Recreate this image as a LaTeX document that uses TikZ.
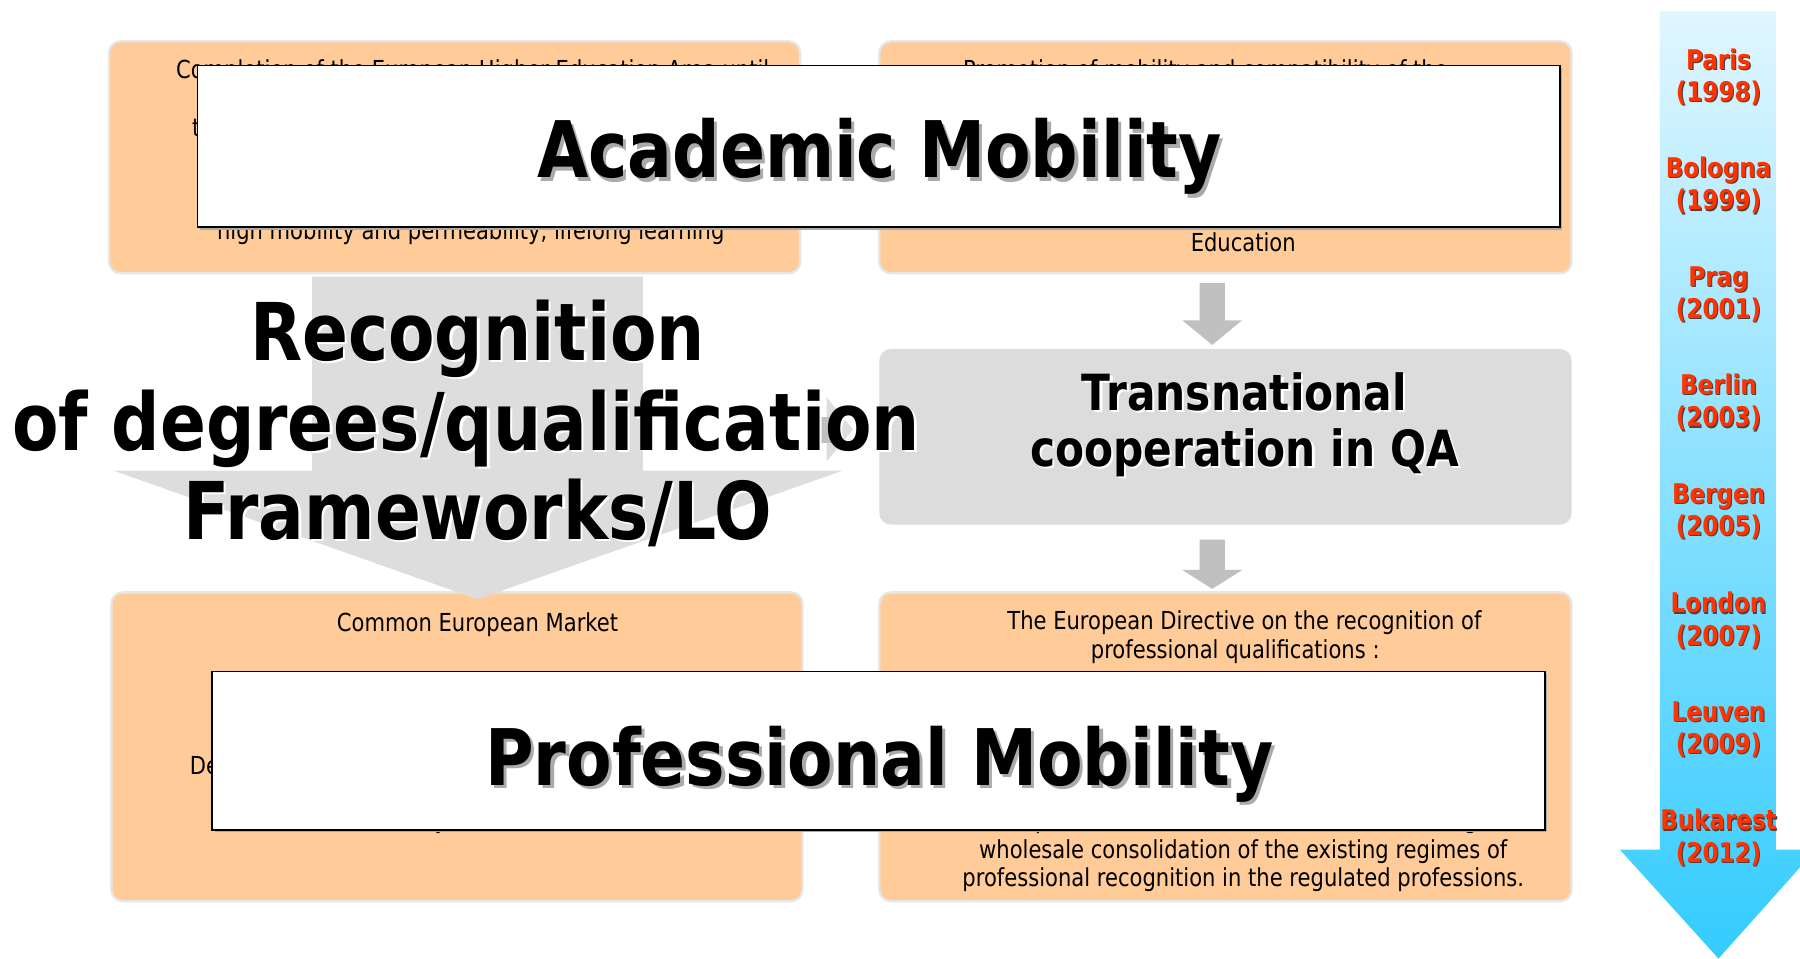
\documentclass[tikz,border=0pt]{standalone}
\usepackage{fontspec}
\setmainfont{DejaVu Sans}[FakeStretch=0.85]
\definecolor{ofill}{RGB}{255,204,153}
\definecolor{obord}{RGB}{230,230,230}
\definecolor{bigarrow}{RGB}{221,221,221}
\definecolor{qabox}{RGB}{220,220,220}
\definecolor{smallarrow}{RGB}{192,192,192}
\definecolor{tlTop}{RGB}{224,246,255}
\definecolor{tlBot}{RGB}{51,204,255}
\definecolor{tlred}{RGB}{255,51,0}
\definecolor{tlshade}{RGB}{90,60,60}
\definecolor{headshade}{RGB}{170,170,170}
\tikzset{
  obox/.style={draw=obord, line width=1pt, fill=ofill, rounded corners=5pt, inner sep=0pt},
  qbox/.style={fill=qabox, rounded corners=5pt, inner sep=0pt},
  hbox/.style={draw=black, line width=0.8pt, fill=white, inner sep=0pt},
  small/.style={font=\fontsize{10.8}{12.5}\selectfont, inner sep=0pt, anchor=base},
  headtext/.style={font=\fontsize{34}{40}\selectfont\bfseries, inner sep=0pt, anchor=base},
  rectext/.style={font=\fontsize{34.7}{40}\selectfont\bfseries, inner sep=0pt, anchor=base},
  qatext/.style={font=\fontsize{21.7}{24}\selectfont\bfseries, inner sep=0pt, anchor=base},
  tltext/.style={font=\fontsize{11.8}{14}\selectfont\bfseries, align=center, inner sep=0pt, text=tlred},
  tlshadow/.style={tltext, text=tlshade},
}
\begin{document}
\begin{tikzpicture}[x=0.5pt,y=-0.5pt]
\useasboundingbox (0,0) rectangle (1568,835);
\fill[white] (0,0) rectangle (1568,835);

% timeline arrow
\shade[top color=tlTop, bottom color=tlBot] (1446,10) -- (1547,10) -- (1547,740) -- (1568,740) -- (1568,755.6) -- (1497,835) -- (1411,740) -- (1446,740) -- cycle;

% top boxes
\node[obox, minimum width=301pt, minimum height=101pt] (tl) at (396,137) {};
\node[obox, minimum width=301.5pt, minimum height=101pt] (tr) at (1067.5,137) {};
\node[small, anchor=base west] (tl1) at (153,68) {Completion of the European Higher Education Area until};
\node[small, anchor=base west] (tl2) at (167,119) {the realisation of the European Higher Education Area};
\node[small, anchor=base west] (tl3) at (171,182) {(European dimension, employability, competitiveness)};
\node[small] (tl4) at (410,209) {high mobility and permeability, lifelong learning};
\node[small] (tr1) at (1050,68) {Promotion of mobility and compatibility of the};
\node[small] (tr2) at (1083,219) {Education};

% transnational QA
\node[qbox, minimum width=301.5pt, minimum height=76.5pt] (qa) at (1067.5,380.5) {};
\fill[smallarrow] (1045,246.5) -- (1067,246.5) -- (1067,279) -- (1082,279) -- (1056,300.5) -- (1030,279) -- (1045,279) -- cycle;
\fill[smallarrow] (1045,470) -- (1067,470) -- (1067,496.5) -- (1082,496.5) -- (1056,513) -- (1030,496.5) -- (1045,496.5) -- cycle;
\node[qatext, text=white] at (1086,359.5) {Transnational};
\node[qatext, text=white] at (1086,408.5) {cooperation in QA};
\node[qatext] (qa1) at (1084,357.5) {Transnational};
\node[qatext] (qa2) at (1084,406.5) {cooperation in QA};

% bottom boxes
\node[obox, minimum width=301pt, minimum height=134.5pt] (bl) at (398,650.5) {};
\node[obox, minimum width=301.5pt, minimum height=134.5pt] (br) at (1067.5,650.5) {};
\node[small] (bl1) at (416,550) {Common European Market};
\node[small, anchor=base west] (bl2) at (165,675) {Development of the internal market for services};
\node[small, anchor=base east] (bl3) at (390,722) {Freedom of mobility};
\node[small] (br1) at (1084,548.5) {The European Directive on the recognition of};
\node[small] (br2) at (1076,573.5) {professional qualifications :};
\node[small] (br3) at (1080,722) {and provides for a more coherent and thorough};
\node[small] (br4) at (1083,747.5) {wholesale consolidation of the existing regimes of};
\node[small] (br5) at (1083,772.5) {professional recognition in the regulated professions.};

% big gray arrow
\fill[bigarrow] (272,241) -- (560,241) -- (560,410) -- (734,410) -- (416,522) -- (99,410) -- (272,410) -- cycle;
\fill[bigarrow] (720,346) -- (743,374) -- (720,402) -- cycle;
\fill[smallarrow] (705,363) rectangle (730,386);

% recognition text
\node[rectext, text=white] at (418,316) {Recognition};
\node[rectext, text=white] at (408,394) {of degrees/qualification};
\node[rectext, text=white] at (418,472) {Frameworks/LO};
\node[rectext] (rec1) at (416,314) {Recognition};
\node[rectext] (rec2) at (406,392) {of degrees/qualification};
\node[rectext] (rec3) at (416,470) {Frameworks/LO};

% headline boxes
\fill[headshade] (174,59) rectangle (1361,200);
\node[hbox, minimum width=593.5pt, minimum height=70.5pt] (acad) at (765.5,127.5) {};
\node[headtext, text=headshade] at (769,158) {Academic Mobility};
\node[headtext] (acadtext) at (766,155) {Academic Mobility};

\fill[headshade] (187,587) rectangle (1348,725);
\node[hbox, minimum width=580.5pt, minimum height=69pt] (prof) at (765.5,654) {};
\node[headtext, text=headshade] at (769,687) {Professional Mobility};
\node[headtext] (proftext) at (766,684) {Professional Mobility};

% timeline labels
\foreach \nm/\city/\yr/\yc in {paris/Paris/1998/67, bologna/Bologna/1999/161.5, prag/Prag/2001/256.5, berlin/Berlin/2003/350.5, bergen/Bergen/2005/445.5, london/London/2007/540.5, leuven/Leuven/2009/635.5, bukarest/Bukarest/2012/729.5} {
  \node[tlshadow] at (1498,\yc+1) {\city\\(\yr)};
  \node[tltext] (\nm) at (1497,\yc) {\city\\(\yr)};
}
\end{tikzpicture}
\end{document}
